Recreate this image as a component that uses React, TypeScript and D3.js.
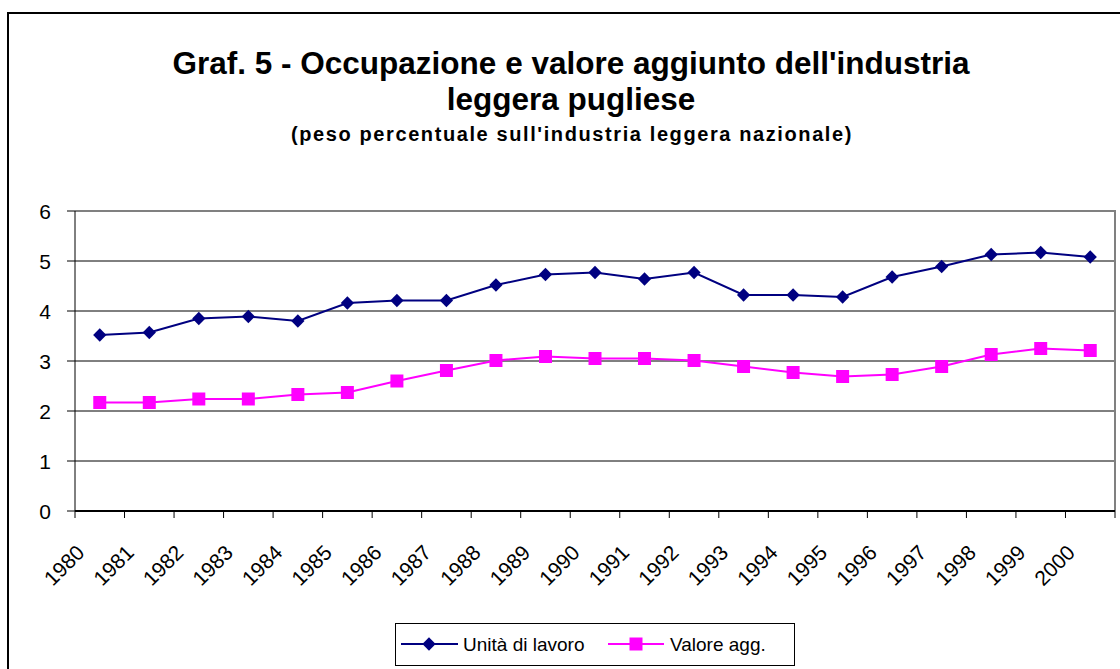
import * as d3 from "d3";

const years = ["1980", "1981", "1982", "1983", "1984", "1985", "1986", "1987", "1988", "1989", "1990",
  "1991", "1992", "1993", "1994", "1995", "1996", "1997", "1998", "1999", "2000"];
const unitaLavoro = [3.52, 3.57, 3.85, 3.89, 3.8, 4.16, 4.21, 4.21, 4.52, 4.73, 4.77,
  4.64, 4.77, 4.32, 4.32, 4.28, 4.68, 4.89, 5.13, 5.17, 5.08];
const valoreAgg = [2.17, 2.17, 2.24, 2.24, 2.33, 2.37, 2.6, 2.81, 3.01, 3.09, 3.05,
  3.05, 3.01, 2.89, 2.77, 2.69, 2.73, 2.89, 3.13, 3.25, 3.21];
const yTicks = [0, 1, 2, 3, 4, 5, 6];

const W = 1120;
const H = 669;
const font = "'Liberation Sans', Arial, sans-serif";
const navy = "#000080";
const magenta = "#FF00FF";

const left = 75, right = 1115, top = 211, bottom = 511;

export default function App() {
  const x = d3.scaleBand<string>().domain(years).range([left, right]);
  const y = d3.scaleLinear().domain([0, 6]).range([bottom, top]);
  const cx = (d: string) => (x(d) as number) + x.bandwidth() / 2;

  const line = d3
    .line<number>()
    .x((_, i) => cx(years[i]))
    .y((d) => y(d));

  const diamond = d3.symbol().type(d3.symbolSquare).size(88)();
  const square = d3.symbol().type(d3.symbolSquare).size(169)();

  const boundaries = d3.range(years.length + 1).map((i) => left + i * x.step());

  return (
    <svg width={W} height={H} style={{ position: "absolute", left: 0, top: 0, background: "#fff" }}
      fontFamily={font}>
      <rect x={8} y={13} width={W + 20} height={H + 20} fill="#fff" stroke="#000" strokeWidth={2} />

      <text x={571} y={74} textAnchor="middle" fontSize={31.5} fontWeight="bold">
        Graf. 5 - Occupazione e valore aggiunto dell'industria
      </text>
      <text x={571} y={110} textAnchor="middle" fontSize={31.5} fontWeight="bold">
        leggera pugliese
      </text>
      <text x={572} y={141} textAnchor="middle" fontSize={20} fontWeight="bold" letterSpacing={1.6}>
        (peso percentuale sull'industria leggera nazionale)
      </text>

      {/* gridlines */}
      {yTicks.filter((t) => t > 0 && t < 6).map((t) => (
        <line key={t} x1={left} x2={right} y1={y(t)} y2={y(t)} stroke="#000" strokeWidth={1} />
      ))}
      {/* plot frame top/right */}
      <polyline points={`${left},${top} ${right},${top} ${right},${bottom}`} fill="none"
        stroke="#808080" strokeWidth={2} />

      {/* y axis */}
      <line x1={left} x2={left} y1={top} y2={bottom} stroke="#000" strokeWidth={1} />
      {yTicks.map((t) => (
        <g key={t}>
          <line x1={left - 8} x2={left} y1={y(t)} y2={y(t)} stroke="#000" />
          <text x={51} y={y(t)} dy="0.36em" textAnchor="end" fontSize={21}>{t}</text>
        </g>
      ))}

      {/* x axis */}
      <line x1={left} x2={right} y1={bottom} y2={bottom} stroke="#000" strokeWidth={2} />
      {boundaries.map((b, i) => (
        <line key={i} x1={b} x2={b} y1={bottom} y2={bottom + 7} stroke="#000" />
      ))}
      {years.map((d) => (
        <text key={d} transform={`translate(${cx(d) - 14},554) rotate(-45)`} textAnchor="end" fontSize={21}>
          {d}
        </text>
      ))}

      {/* series */}
      <path d={line(unitaLavoro) as string} fill="none" stroke={navy} strokeWidth={2} />
      {unitaLavoro.map((v, i) => (
        <path key={i} d={diamond} transform={`translate(${cx(years[i])},${y(v)}) rotate(45)`} fill={navy} />
      ))}
      <path d={line(valoreAgg) as string} fill="none" stroke={magenta} strokeWidth={2} />
      {valoreAgg.map((v, i) => (
        <path key={i} d={square} transform={`translate(${cx(years[i])},${y(v)})`} fill={magenta} />
      ))}

      {/* legend */}
      <rect x={395.5} y={623.5} width={399} height={42} fill="#fff" stroke="#000" strokeWidth={1} />
      <line x1={401} x2={458} y1={644} y2={644} stroke={navy} strokeWidth={2} />
      <path d={diamond} transform="translate(429,644) rotate(45)" fill={navy} />
      <text x={463} y={651} fontSize={19}>Unità di lavoro</text>
      <line x1={608} x2={664} y1={644} y2={644} stroke={magenta} strokeWidth={2} />
      <path d={square} transform="translate(636,644)" fill={magenta} />
      <text x={670} y={651} fontSize={19}>Valore agg.</text>
    </svg>
  );
}
